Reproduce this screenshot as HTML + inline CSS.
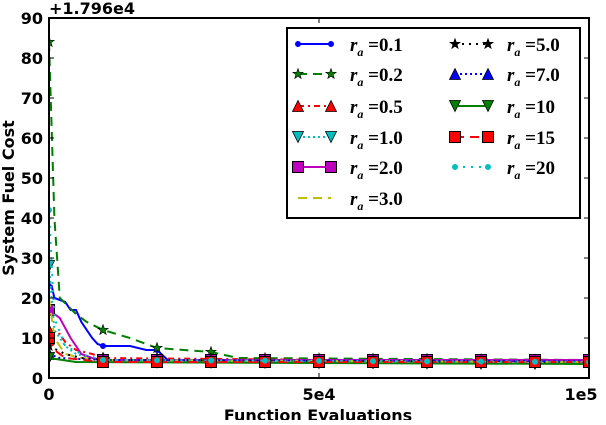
<!DOCTYPE html>
<html><head><meta charset="utf-8"><style>
body{margin:0;background:#fff;}
svg text{font-family:"DejaVu Sans","Liberation Sans",sans-serif;font-weight:bold;}
svg text.leg{font-family:"Liberation Serif",serif;font-weight:bold;}
</style></head><body>
<svg id="c" width="606" height="420" viewBox="0 0 606 420" xmlns="http://www.w3.org/2000/svg"></svg>
<script>
const labels=["0.1","0.2","0.5","1.0","2.0","3.0","5.0","7.0","10","15","20"];
const colors=["#0000ff","#008000","#ff0000","#00bfbf","#bf00bf","#bfbf00","#000000","#0000ff","#008000","#ff0000","#00bfbf"];
const dashes=["","9,6","6,4,2,4","2,3","","9,6","2,5","2,3","","9,6","2,6"];
const markers=["circle","star","tri","tridown","square","none","star","tri","tridown","square","circle"];
const xs0=[0,0.5,1,3,4,5,6,8,9,10,15,18,20,22,100];
const ys0=[23,23,20,19,17,17,14,10,8.5,8,8,7,7,4.5,4.2];
const xs1=[0,1,2,5,7,10,15,20,30,35,100];
const ys1=[84,40,20,16,14,12,10,7.5,6.5,5,4.5];
const xs2=[0,2,3,5,8,10,100];
const ys2=[12,11,9,7,6,5,4];
const xs3=[0,1,3,5,8,10,100];
const ys3=[28,12,8,6,5,4.5,4];
const xs4=[0,2,4,6,8,10,100];
const ys4=[17,15,10,6,5,4.5,4.5];
const xs5=[0,1,3,6,10,100];
const ys5=[20,10,6,5,4.5,4];
const xs6=[0,3,6,10,100];
const ys6=[8,6,5,4.5,4];
const xs7=[0,2,10,100];
const ys7=[6,5,4.5,4.2];
const xs8=[0,5,100];
const ys8=[5,4,3.5];
const xs9=[0,1,3,10,100];
const ys9=[10,7,5,4,4];
const xs10=[0,1,3,6,10,100];
const ys10=[42,15,8,6,4.5,4];
const xTicks=[0,50,100];
const xTickLabels=["0","5e4","1e5"];
const yTicks=[0,10,20,30,40,50,60,70,80,90];
const XS=[xs0,xs1,xs2,xs3,xs4,xs5,xs6,xs7,xs8,xs9,xs10];
const YS=[ys0,ys1,ys2,ys3,ys4,ys5,ys6,ys7,ys8,ys9,ys10];
const L=49,R=589,T=18,B=378;
const sx=v=>L+(v/100)*(R-L);
const sy=v=>B-(v/90)*(B-T);
const svg=document.getElementById('c');
const NS="http://www.w3.org/2000/svg";
function mk(tag,attrs,parent){const e=document.createElementNS(NS,tag);for(const k in attrs)e.setAttribute(k,attrs[k]);(parent||svg).appendChild(e);return e;}
function interp(xa,ya,x){for(let i=1;i<xa.length;i++){if(x<=xa[i]){const t=(x-xa[i-1])/(xa[i]-xa[i-1]);return ya[i-1]+t*(ya[i]-ya[i-1]);}}return ya[ya.length-1];}
function marker(type,x,y,col,g){
  const s=5.5;let e;
  if(type==="circle")e=mk('circle',{cx:x,cy:y,r:2.5,fill:col,stroke:col},g);
  else if(type==="square")e=mk('rect',{x:x-s,y:y-s,width:2*s,height:2*s,fill:col,stroke:"#000","stroke-width":1},g);
  else if(type==="tri")e=mk('polygon',{points:`${x},${y-s} ${x-s},${y+s} ${x+s},${y+s}`,fill:col,stroke:"#000","stroke-width":0.8},g);
  else if(type==="tridown")e=mk('polygon',{points:`${x},${y+s} ${x-s},${y-s} ${x+s},${y-s}`,fill:col,stroke:"#000","stroke-width":0.8},g);
  else if(type==="star"){let p=[];for(let i=0;i<10;i++){const r=i%2?2.2:5.5,a=-Math.PI/2+i*Math.PI/5;p.push((x+r*Math.cos(a)).toFixed(1)+","+(y+r*Math.sin(a)).toFixed(1));}e=mk('polygon',{points:p.join(" "),fill:col,stroke:"#000","stroke-width":0.6},g);}
  else return;
  
  
}
const clip=mk('clipPath',{id:'pc'});mk('rect',{x:L,y:T,width:R-L,height:B-T},clip);
const plot=mk('g',{'clip-path':'url(#pc)'});


for(let i=0;i<XS.length;i++){
  const g=mk('g',{},plot);
  
  
  const pts=XS[i].map((x,j)=>sx(x).toFixed(1)+","+sy(YS[i][j]).toFixed(1)).join(" ");
  const pl=mk('polyline',{points:pts,fill:"none",stroke:colors[i],"stroke-width":2,"stroke-dasharray":dashes[i]},g);
  
  
  for(let m=0;m<=100;m+=10)marker(markers[i],sx(m),sy(interp(XS[i],YS[i],m)),colors[i],g);
}
const ax=mk('rect',{x:L,y:T,width:R-L,height:B-T,fill:"none",stroke:"#000","stroke-width":2});


yTicks.forEach(v=>{
  mk('line',{x1:L,x2:L+5,y1:sy(v),y2:sy(v),stroke:"#000"});
  mk('line',{x1:R-5,x2:R,y1:sy(v),y2:sy(v),stroke:"#000"});
  const t=mk('text',{x:L-6,y:sy(v)+6,"text-anchor":"end","font-size":16});t.textContent=v;
  
  
});
xTicks.forEach((v,i)=>{
  mk('line',{x1:sx(v),x2:sx(v),y1:B,y2:B-5,stroke:"#000"});
  mk('line',{x1:sx(v),x2:sx(v),y1:T,y2:T+5,stroke:"#000"});
  const t=mk('text',{x:sx(v)-(i===2?8:0),y:B+22,"text-anchor":"middle","font-size":16});t.textContent=xTickLabels[i];
  
  
});
const off=mk('text',{x:L,y:14,"font-size":16});off.textContent="+1.796e4";

const yl=mk('text',{x:0,y:0,"font-size":16,"text-anchor":"middle",transform:"translate(14,198) rotate(-90)"});yl.textContent="System Fuel Cost";

const xl=mk('text',{x:318,y:421,"font-size":16,"text-anchor":"middle"});xl.textContent="Function Evaluations";

const lg=mk('g',{});


mk('rect',{x:287,y:28,width:293,height:190,fill:"#fff",stroke:"#000","stroke-width":2},lg);
const rowsY=[44,74,106,137,167,198];
for(let i=0;i<labels.length;i++){
  const col=i<6?0:1,row=i<6?i:i-6;
  const hx=col?455:298,tx=col?507:350,y=rowsY[row];
  const e=mk('g',{},lg);
  
  
  mk('line',{x1:hx,x2:hx+33,y1:y,y2:y,stroke:colors[i],"stroke-width":2,"stroke-dasharray":dashes[i]},e);
  marker(markers[i],hx,y,colors[i],e);marker(markers[i],hx+33,y,colors[i],e);
  const t=mk('text',{x:tx,y:y+7,"font-size":19,"class":"leg"},e);
  t.innerHTML='<tspan font-style="italic">r</tspan><tspan font-style="italic" font-size="12" dy="5">a</tspan><tspan dy="-5"> =</tspan>'+labels[i];
}
</script>
</body></html>
